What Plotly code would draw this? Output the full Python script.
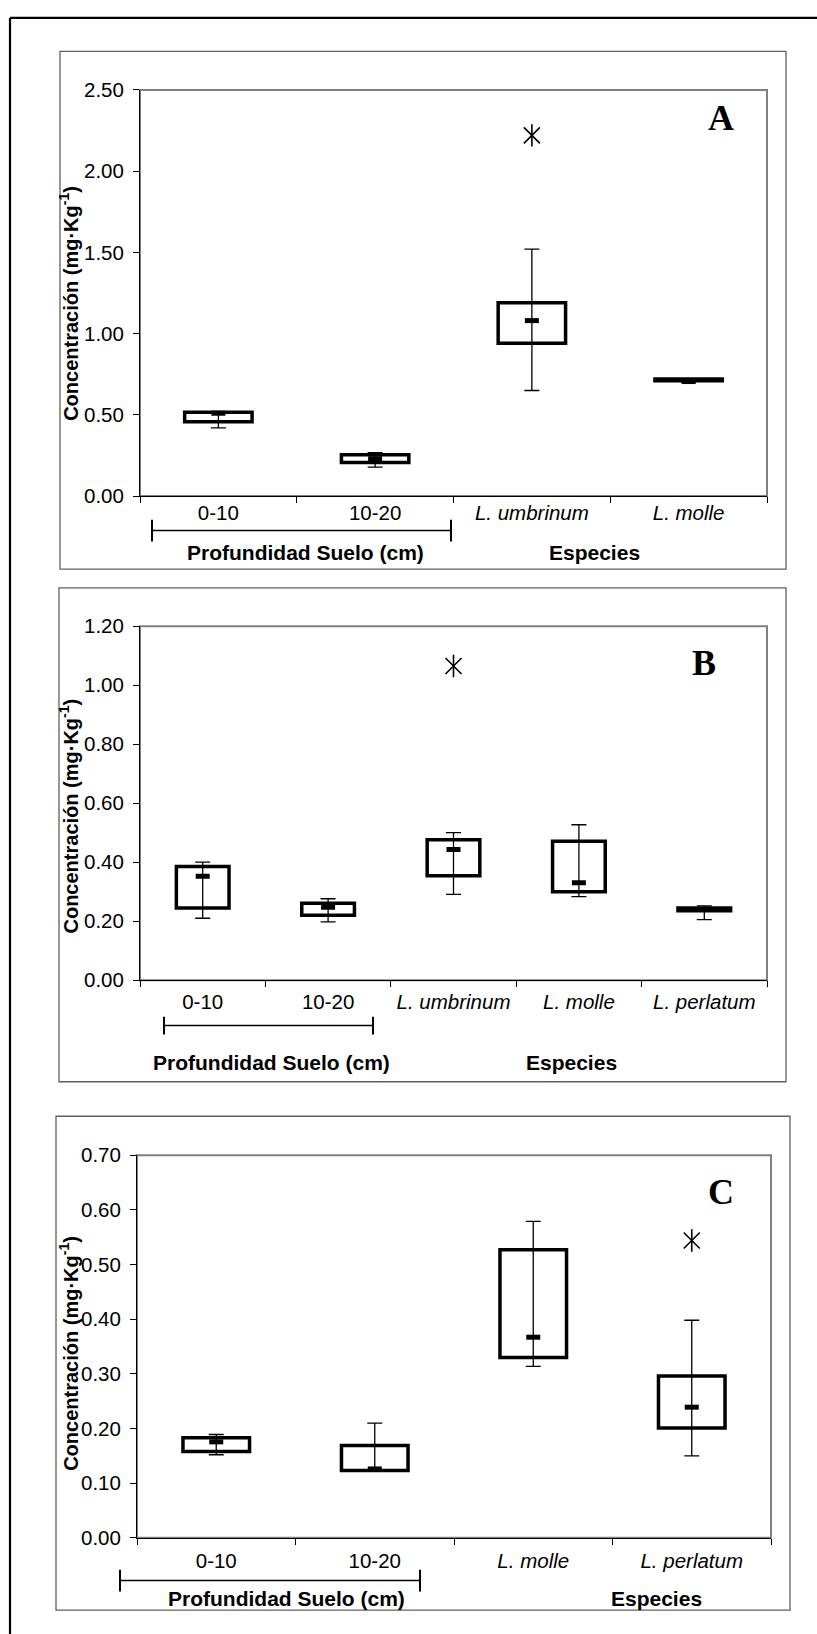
import plotly.graph_objects as go

W, H = 817, 1634
SANS = "Liberation Sans, Arial, sans-serif"
SERIF = "Liberation Serif, Times New Roman, serif"

# ---------------- Panel A ----------------
cats_a = ["0-10", "10-20", "<i>L. umbrinum</i>", "<i>L. molle</i>"]
q1_a = [0.458, 0.206, 0.94, 0.71]
q3_a = [0.516, 0.255, 1.19, 0.72]
med_a = [0.51, 0.23, 1.08, 0.705]
lo_a = [0.42, 0.178, 0.65, 0.70]
hi_a = [0.52, 0.267, 1.52, 0.72]
out_cat_a = ["<i>L. umbrinum</i>"]
out_val_a = [2.22]

# ---------------- Panel B ----------------
cats_b = ["0-10", "10-20", "<i>L. umbrinum</i>", "<i>L. molle</i>", "<i>L. perlatum</i>"]
q1_b = [0.245, 0.22, 0.354, 0.30, 0.235]
q3_b = [0.385, 0.261, 0.476, 0.471, 0.245]
med_b = [0.352, 0.247, 0.443, 0.33, 0.24]
lo_b = [0.21, 0.198, 0.291, 0.283, 0.205]
hi_b = [0.40, 0.276, 0.50, 0.527, 0.252]
out_cat_b = ["<i>L. umbrinum</i>"]
out_val_b = [1.065]

# ---------------- Panel C ----------------
cats_c = ["0-10", "10-20", "<i>L. molle</i>", "<i>L. perlatum</i>"]
q1_c = [0.158, 0.123, 0.33, 0.201]
q3_c = [0.183, 0.169, 0.527, 0.296]
med_c = [0.1755, 0.126, 0.367, 0.239]
lo_c = [0.152, 0.122, 0.3135, 0.15]
hi_c = [0.189, 0.21, 0.579, 0.398]
out_cat_c = ["<i>L. perlatum</i>"]
out_val_c = [0.544]

y_ranges = [(0, 2.5, 0.5), (0, 1.2, 0.2), (0, 0.7, 0.1)]
letters = ["A", "B", "C"]


def px_x(v):
    return v / W


def px_y(v):
    return 1 - v / H


# plot-area rectangles (left, top, right, bottom) in pixels
areas = [(140, 79, 767, 491), (140, 623, 767, 982), (137, 1159.5, 771, 1547.6)]
frames = [(60, 40, 786, 565), (59, 584, 786, 1085), (56, 1120, 790, 1621)]
box_widths = [0.43, 0.42, 0.42]
letter_pos = [(721, 108), (704, 660), (721, 1197)]
ytitle_center = [296, 816, 1361]
xlabel_standoff = [-2, 3, 5]

panels = [
    (cats_a, q1_a, q3_a, med_a, lo_a, hi_a, out_cat_a, out_val_a),
    (cats_b, q1_b, q3_b, med_b, lo_b, hi_b, out_cat_b, out_val_b),
    (cats_c, q1_c, q3_c, med_c, lo_c, hi_c, out_cat_c, out_val_c),
]

fig = go.Figure()
layout = dict(
    width=W, height=H, margin=dict(l=0, r=0, t=0, b=0),
    paper_bgcolor="white", plot_bgcolor="white", showlegend=False,
    font=dict(family=SANS, color="black"),
)
shapes, annotations = [], []

for i, (cats, q1, q3, med, lo, hi, ocat, oval) in enumerate(panels):
    sfx = "" if i == 0 else str(i + 1)
    xa, ya = "x" + sfx, "y" + sfx
    # box bodies
    fig.add_trace(go.Bar(
        x=cats, y=[b - a for a, b in zip(q1, q3)], base=q1, width=box_widths[i],
        marker=dict(color="white", line=dict(color="black", width=3.5)),
        xaxis=xa, yaxis=ya, hoverinfo="skip"))
    # whiskers and median dash
    fig.add_trace(go.Scatter(
        x=cats, y=med, mode="markers",
        marker=dict(symbol="line-ew", size=10, color="black",
                    line=dict(color="black", width=5)),
        error_y=dict(type="data", symmetric=False,
                     array=[h - m for h, m in zip(hi, med)],
                     arrayminus=[m - l for m, l in zip(med, lo)],
                     color="black", thickness=1.3, width=7.5),
        xaxis=xa, yaxis=ya))
    # outliers drawn as a six-armed star
    for sym in ("x-thin", "line-ns"):
        fig.add_trace(go.Scatter(
            x=ocat, y=oval, mode="markers",
            marker=dict(symbol=sym, size=16, color="black",
                        line=dict(color="black", width=1.6)),
            xaxis=xa, yaxis=ya))

    l, t, r, b = areas[i]
    y0, y1, dt = y_ranges[i]
    layout["xaxis" + sfx] = dict(
        domain=[px_x(l), px_x(r)], anchor=ya, type="category",
        range=[-0.5, len(cats) - 0.5], tickson="boundaries",
        ticks="outside", ticklen=6, tickcolor="black", tickwidth=1,
        showline=True, linecolor="black", linewidth=1, showgrid=False,
        ticklabelstandoff=xlabel_standoff[i],
        tickfont=dict(family=SANS, size=20.5, color="black"), fixedrange=True)
    layout["yaxis" + sfx] = dict(
        domain=[px_y(b), px_y(t)], anchor=xa, range=[y0, y1], dtick=dt,
        tick0=0, tickformat=".2f", ticks="outside", ticklen=6,
        tickcolor="black", tickwidth=1, showline=True, linecolor="black",
        linewidth=1, showgrid=False, zeroline=False, ticklabelstandoff=5,
        tickfont=dict(family=SANS, size=20.5, color="black"), fixedrange=True)

    # grey top/right border of the plotting area
    shapes.append(dict(type="rect", xref=xa + " domain", yref=ya + " domain",
                       x0=0, x1=1, y0=0, y1=1, layer="below",
                       line=dict(color="#808080", width=2)))
    # panel frame
    fl, ft, fr, fb = frames[i]
    shapes.append(dict(type="rect", xref="paper", yref="paper",
                       x0=px_x(fl), x1=px_x(fr), y0=px_y(fb), y1=px_y(ft),
                       line=dict(color="#606060", width=1.3)))

    # panel letter
    lx, ly = letter_pos[i]
    annotations.append(dict(
        text="<b>%s</b>" % letters[i], xref="paper", yref="paper",
        x=px_x(lx), y=px_y(ly), showarrow=False, xanchor="center", yanchor="middle",
        font=dict(family=SERIF, size=36, color="black")))
    # y-axis title
    annotations.append(dict(
        text="<b>Concentración (mg·Kg<sup>-1</sup>)</b>", textangle=-90,
        xref="paper", yref="paper", x=px_x(69), y=px_y(ytitle_center[i]),
        showarrow=False, xanchor="center", yanchor="middle",
        font=dict(family=SANS, size=20, color="black")))

# soil-depth brackets and group labels
brackets = [(152, 451, 526, 11), (164, 373, 1028, 9), (120, 420, 1591, 11)]
group_y = [548, 1065, 1609]
prof_x = [305, 271, 286]
esp_x = [594, 571, 656]
for (bx0, bx1, by, bh), gy, pxx, exx in zip(brackets, group_y, prof_x, esp_x):
    shapes.append(dict(type="line", xref="paper", yref="paper",
                       x0=px_x(bx0), x1=px_x(bx1), y0=px_y(by), y1=px_y(by),
                       line=dict(color="black", width=1.5)))
    for bx in (bx0, bx1):
        shapes.append(dict(type="line", xref="paper", yref="paper",
                           x0=px_x(bx), x1=px_x(bx), y0=px_y(by - bh), y1=px_y(by + bh),
                           line=dict(color="black", width=2)))
    annotations.append(dict(text="<b>Profundidad Suelo (cm)</b>", xref="paper",
                            yref="paper", x=px_x(pxx), y=px_y(gy), showarrow=False,
                            xanchor="center", yanchor="middle",
                            font=dict(family=SANS, size=21, color="black")))
    annotations.append(dict(text="<b>Especies</b>", xref="paper", yref="paper",
                            x=px_x(exx), y=px_y(gy), showarrow=False,
                            xanchor="center", yanchor="middle",
                            font=dict(family=SANS, size=21, color="black")))

# outer figure border (top and left edges)
shapes.append(dict(type="line", xref="paper", yref="paper", x0=px_x(10), x1=1.05,
                   y0=px_y(6), y1=px_y(6), line=dict(color="black", width=2.2)))
shapes.append(dict(type="line", xref="paper", yref="paper", x0=px_x(10), x1=px_x(10),
                   y0=px_y(6), y1=-0.05, line=dict(color="black", width=2.2)))

layout["shapes"] = shapes
layout["annotations"] = annotations
fig.update_layout(**layout)
fig.write_html("out.html")
